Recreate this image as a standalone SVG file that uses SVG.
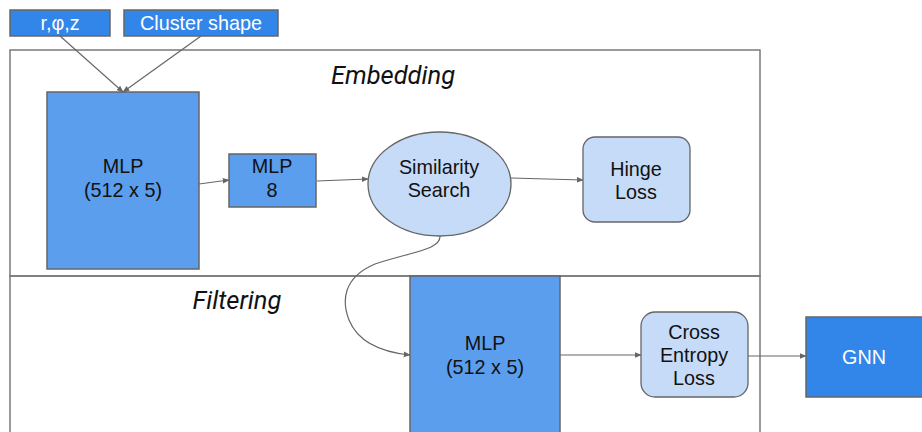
<svg xmlns="http://www.w3.org/2000/svg" width="922" height="432" viewBox="0 0 922 432">
<style>
.frame{fill:none;stroke:#7a7a7a;stroke-width:1.5}
.dark{fill:#3386e9;stroke:#666;stroke-width:1.5}
.mid{fill:#5b9eee;stroke:#666;stroke-width:1.5}
.light{fill:#c6dbf8;stroke:#666;stroke-width:1.3}
.t{font-family:"Liberation Sans",Arial,sans-serif;font-size:19.8px;fill:#111;text-anchor:middle}
.w{fill:#fff}
.h{font-family:Roboto,"Liberation Sans",sans-serif;font-style:italic;font-size:25.5px;fill:#111;text-anchor:middle}
.c{fill:none;stroke:#666;stroke-width:1.2;marker-end:url(#a)}
</style>
<defs>
<marker id="a" viewBox="0 0 10 10" refX="9" refY="5" markerWidth="7" markerHeight="7" markerUnits="userSpaceOnUse" orient="auto">
<path d="M0,1 L10,5 L0,9 z" fill="#666"/>
</marker>
</defs>
<rect width="922" height="432" fill="#fff"/>
<g id="embedding">
<rect class="frame" x="10" y="50" width="750" height="226"/>
<text class="h" x="393" y="84">Embedding</text>
</g>
<g id="filtering">
<rect class="frame" x="10" y="276" width="750" height="170"/>
<text class="h" x="237" y="309">Filtering</text>
</g>
<g id="connectors">
<path class="c" d="M60,36 L123,92"/>
<path class="c" d="M201,36 L123,92"/>
<path class="c" d="M199,184 L229,180"/>
<path class="c" d="M317,181 L368,179"/>
<path class="c" d="M511,178 L583,180"/>
<path class="c" d="M440,236 C441,250 410,252 375,264 C342,278 342,302 349,320 C358,342 380,352 410,355"/>
<path class="c" d="M560,355 L641,355"/>
<path class="c" d="M748,356 L806,356"/>
</g>
<g id="input-rphiz">
<rect class="dark" x="10" y="10" width="100" height="26"/>
<text class="t w" x="60" y="30">r,φ,z</text>
</g>
<g id="input-cluster">
<rect class="dark" x="124" y="10" width="154" height="26"/>
<text class="t w" x="201" y="30">Cluster shape</text>
</g>
<g id="mlp-embed">
<rect class="mid" x="47" y="92" width="152" height="177"/>
<text class="t" x="123" y="173">MLP</text>
<text class="t" x="123" y="197">(512 x 5)</text>
</g>
<g id="mlp8">
<rect class="mid" x="229" y="154" width="87" height="53"/>
<text class="t" x="272" y="173">MLP</text>
<text class="t" x="272" y="197">8</text>
</g>
<g id="similarity">
<ellipse class="light" cx="439.5" cy="184" rx="71.5" ry="52"/>
<text class="t" x="439" y="174">Similarity</text>
<text class="t" x="439" y="197">Search</text>
</g>
<g id="hinge">
<rect class="light" x="583" y="137" width="107" height="85" rx="12"/>
<text class="t" x="636" y="176">Hinge</text>
<text class="t" x="636" y="199">Loss</text>
</g>
<g id="mlp-filter">
<rect class="mid" x="410" y="276" width="150" height="170"/>
<text class="t" x="485" y="350">MLP</text>
<text class="t" x="485" y="374">(512 x 5)</text>
</g>
<g id="cross-entropy">
<rect class="light" x="641" y="312" width="107" height="85" rx="14"/>
<text class="t" x="694" y="339">Cross</text>
<text class="t" x="694" y="362">Entropy</text>
<text class="t" x="694" y="385">Loss</text>
</g>
<g id="gnn">
<rect class="dark" x="806" y="317" width="130" height="80"/>
<text class="t w" x="864" y="364">GNN</text>
</g>
</svg>
